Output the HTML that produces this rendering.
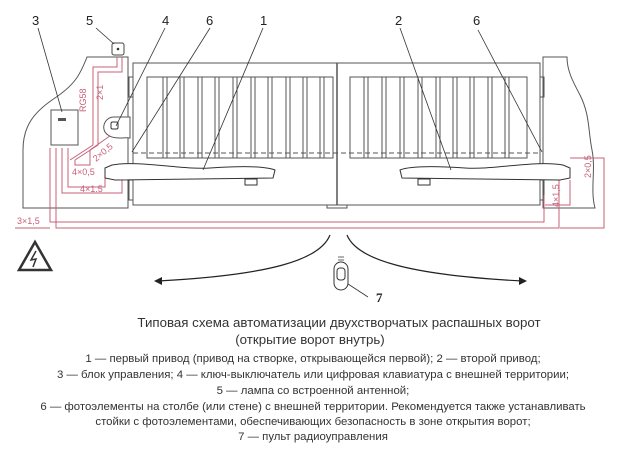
<!DOCTYPE html>
<html><head><meta charset="utf-8"><style>
body{margin:0;background:#fff;}
svg{display:block;font-family:"Liberation Sans","DejaVu Sans",sans-serif;}
</style></head><body>
<svg width="617" height="456" viewBox="0 0 617 456" xmlns="http://www.w3.org/2000/svg">
<g fill="none" stroke="#555" stroke-width="1">
<path d="M87,57 L128,57 L128,208 L23,208 L23,150 C23,125 35,112 52,100 C75,85 80,75 87,57 Z"/>
<path d="M543,57 L567,57 C567,70 572,80 580,95 C590,115 588,130 592,150 C596,170 590,190 595,208 L543,208 Z"/>
<rect x="133" y="63" width="204" height="142"/>
<rect x="337" y="63" width="203" height="142"/>
<rect x="147" y="77" width="186" height="81"/>
<rect x="350" y="77" width="177" height="81"/>
<line x1="337" y1="63" x2="337" y2="205" stroke-width="1.5"/>
<rect x="327" y="205" width="20" height="3"/>
<rect x="129" y="77" width="4" height="20"/><rect x="129" y="180" width="4" height="20"/>
<rect x="540" y="77" width="4" height="20"/><rect x="540" y="180" width="4" height="20"/>
<line x1="133" y1="153" x2="540" y2="153" stroke-dasharray="5,3"/>
</g>
<g stroke="#555" fill="none">
<path d="M163,77V158M167,77V158M180,77V158M184,77V158M198,77V158M202,77V158M215,77V158M219,77V158M233,77V158M237,77V158M251,77V158M255,77V158M268,77V158M272,77V158M286,77V158M290,77V158M303,77V158M307,77V158M320,77V158M324,77V158"/>
<path d="M364,77V158M368,77V158M382,77V158M386,77V158M400,77V158M404,77V158M418,77V158M422,77V158M436,77V158M440,77V158M453,77V158M457,77V158M470,77V158M474,77V158M488,77V158M492,77V158M505,77V158M509,77V158"/>
</g>
<g fill="none" stroke="#c8607a" stroke-width="1">
<path d="M117,57 V67 H93 V145 L70,160 M122,57 V72 H98 V145 L75,160"/>
<path d="M114,133 L90,150 V165 L75,165 V160"/>
<path d="M68,148 V187 H105 V175"/>
<path d="M62,148 V193 H122 V180"/>
<path d="M56,148 V228 H559 V180"/>
<path d="M50,148 V222 H544 V195"/>
<path d="M570,158 H604 V228 H560"/>
<path d="M545,205 H570 V180"/>
<line x1="15" y1="228" x2="50" y2="228"/>
</g>
<g fill="#c8607a" font-size="9">
<text x="86" y="112" transform="rotate(-90 86 112)">RG58</text>
<text x="103" y="100" transform="rotate(-90 103 100)">2×1</text>
<text x="96" y="162" transform="rotate(-40 96 162)">2×0,5</text>
<text x="72" y="175">4×0,5</text>
<text x="80" y="192">4×1.5</text>
<text x="17" y="224">3×1,5</text>
<text x="559" y="207" transform="rotate(-90 559 207)">4×1,5</text>
<text x="591" y="178" transform="rotate(-90 591 178)">2×0,5</text>
</g>
<rect x="51" y="110" width="27" height="35" fill="#fff" stroke="#555"/>
<rect x="58" y="118" width="8" height="3" fill="#555"/>
<rect x="112" y="43" width="12" height="12" rx="2" fill="#fff" stroke="#444"/>
<circle cx="118" cy="49" r="1.3" fill="#333"/>
<path d="M114,117 C104,117 100,130 108,135 C115,140 125,137 130,138 V117 Z" fill="#fff" stroke="#555"/>
<rect x="111" y="122" width="7" height="7" rx="1.5" fill="none" stroke="#333"/>
<g fill="#fff" stroke="#333">
<path d="M105,168 L112,165 C140,160 180,170 210,168 C240,166 265,166 275,170 L273,178 L115,180 L105,178 Z"/>
<path d="M570,168 L563,165 C535,160 495,170 465,168 C435,166 410,166 400,170 L402,178 L560,180 L570,178 Z"/>
<rect x="245" y="179" width="12" height="6"/>
<rect x="418" y="179" width="12" height="6"/>
</g>
<g stroke="#333" stroke-width="0.8">
<line x1="38" y1="28" x2="62" y2="112"/>
<line x1="96" y1="28" x2="114" y2="44"/>
<line x1="165" y1="28" x2="116" y2="126"/>
<line x1="210" y1="28" x2="132" y2="152"/>
<line x1="263" y1="28" x2="203" y2="170"/>
<line x1="400" y1="28" x2="451" y2="170"/>
<line x1="478" y1="30" x2="542" y2="152"/>
<line x1="345" y1="282" x2="368" y2="297"/>
</g>
<g font-size="13" fill="#222">
<text x="32" y="25">3</text><text x="86" y="25">5</text><text x="162" y="25">4</text>
<text x="206" y="25">6</text><text x="260" y="25">1</text><text x="395" y="25">2</text><text x="473" y="25">6</text>
<text x="376" y="302" font-family="Liberation Serif,serif" font-weight="bold">7</text>
</g>
<g fill="none" stroke="#222" stroke-width="1.2">
<path d="M330,235 C320,260 270,275 158,281"/>
<path d="M347,235 C357,260 410,275 522,281"/>
</g>
<path d="M154,281 L162,277 L162,285 Z" fill="#222"/>
<path d="M527,281 L519,277 L519,285 Z" fill="#222"/>
<rect x="334" y="262" width="14" height="28" rx="7" fill="#fff" stroke="#333"/>
<rect x="337" y="268" width="8" height="12" rx="3" fill="none" stroke="#333"/>
<path d="M338,257h6M338,260h6" stroke="#666"/>
<path d="M35,242 L51,270 L19,270 Z" fill="#fff" stroke="#333" stroke-width="2.5"/>
<path d="M36,251 L31,260 L36,259 L33,267" stroke="#333" stroke-width="1.5" fill="none"/>
<g font-size="13.3" fill="#333" text-anchor="middle">
<text x="339" y="327">Типовая схема автоматизации двухстворчатых распашных ворот</text>
<text x="310" y="344">(открытие ворот внутрь)</text>
</g>
<g font-size="11.4" fill="#333" text-anchor="middle">
<text x="313" y="362">1 — первый привод (привод на створке, открывающейся первой); 2 — второй привод;</text>
<text x="313" y="378">3 — блок управления; 4 — ключ-выключатель или цифровая клавиатура с внешней территории;</text>
<text x="313" y="394">5 — лампа со встроенной антенной;</text>
<text x="313" y="410">6 — фотоэлементы на столбе (или стене) с внешней территории. Рекомендуется также устанавливать</text>
<text x="313" y="425">стойки с фотоэлементами, обеспечивающих безопасность в зоне открытия ворот;</text>
<text x="313" y="440">7 — пульт радиоуправления</text>
</g>
</svg>
</body></html>
